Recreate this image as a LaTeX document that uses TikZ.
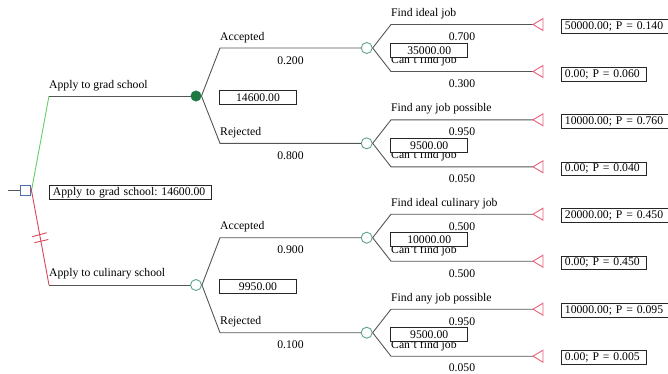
\documentclass[tikz,border=0pt]{standalone}
\usepackage{fontspec}
\setmainfont{Liberation Serif}
\frenchspacing
\definecolor{lgray}{HTML}{555555}
\definecolor{lgreen}{HTML}{66CC66}
\definecolor{lred}{HTML}{D9465A}
\definecolor{sqblue}{HTML}{4A6FB5}
\definecolor{dgreen}{HTML}{1E7A45}
\definecolor{cgreen}{HTML}{5FA585}
\definecolor{tred}{HTML}{E8607A}
\begin{document}
\begin{tikzpicture}[x=1pt,y=-1pt,
  every node/.style={font=\fontsize{11.7}{13}\selectfont},
  branch/.style={draw=lgray, line width=0.9pt},
  decnode/.style={draw=sqblue, fill=white, line width=0.9pt, minimum size=10pt, inner sep=0pt, rectangle},
  fchance/.style={circle, fill=dgreen, draw=dgreen, minimum size=10.5pt, inner sep=0pt},
  ochance/.style={circle, fill=white, draw=cgreen, line width=0.9pt, minimum size=11pt, inner sep=0pt},
  tristyle/.style={draw=tred, line width=0.9pt, fill=white},
  lbl/.style={anchor=base west, inner sep=0pt},
  prob/.style={anchor=base, inner sep=0pt},
  vbox/.style={draw=black!85, line width=0.8pt, minimum width=77pt, minimum height=13.6pt, inner sep=0pt, fill=white},
  pbox/.style={draw=black!85, line width=0.8pt, anchor=west, minimum height=13.6pt, inner xsep=3.5pt, inner ysep=0pt, text width=#1, align=left, fill=white},
]
\useasboundingbox (0,0) rectangle (668,373);

% root
\coordinate (r0) at (8,190.5);
\node[decnode] (r) at (25.5,190.5) {};
\draw[branch] (r0) -- (r.west);
\coordinate (kA) at (49,96);
\coordinate (kB) at (49,285);
\node[fchance] (cA) at (196,96) {};
\node[ochance] (cB) at (196,285) {};
\draw[draw=lgreen, line width=0.9pt] ([yshift=-3pt]r.east) -- (kA);
\draw[branch] (kA) -- (cA.west);
\draw[draw=lred, line width=0.9pt] ([yshift=3pt]r.east) -- (kB);
\draw[branch] (kB) -- (cB.west);
\draw[draw=lred, line width=0.9pt] (32.3,236.7) -- (46.7,232.7);
\draw[draw=lred, line width=0.9pt] (34.3,242.7) -- (48.3,239.5);
\node[lbl] (lA) at (49,88) {Apply to grad school};
\node[lbl] (lB) at (49,276.7) {Apply to culinary school};
\node[pbox=154.7pt] (rb) at (49,192.3) {\mbox{Apply to grad school: 14600.00}};

% level 1
\node[ochance] (cA1) at (366.7,48) {};
\node[ochance] (cA2) at (366.7,143.3) {};
\node[ochance] (cB1) at (366.7,237.7) {};
\node[ochance] (cB2) at (366.7,332.7) {};
\coordinate (kA1) at (220,48);
\coordinate (kA2) at (220,143.3);
\coordinate (kB1) at (220,237.7);
\coordinate (kB2) at (220,332.7);
\draw[branch] (cA.east) -- (kA1) -- (cA1.west);
\draw[branch] (cA.east) -- (kA2) -- (cA2.west);
\draw[branch] (cB.east) -- (kB1) -- (cB1.west);
\draw[branch] (cB.east) -- (kB2) -- (cB2.west);
\node[lbl] (lA1) at (220,40) {Accepted};
\node[lbl] (lA2) at (220,135.3) {Rejected};
\node[lbl] (lB1) at (220,229.7) {Accepted};
\node[lbl] (lB2) at (220,324.7) {Rejected};
\node[prob] (pA1) at (290.5,64) {0.200};
\node[prob] (pA2) at (290.5,159.3) {0.800};
\node[prob] (pB1) at (290.5,253.7) {0.900};
\node[prob] (pB2) at (290.5,348.7) {0.100};
\node[vbox] (vA) at (258,97.3) {14600.00};
\node[vbox] (vB) at (258,286.6) {9950.00};

% level 2
\foreach \n/\y in {A1/48, A2/143.3, B1/237.7, B2/332.7}{
  \coordinate (k\n u) at (391,\y-23.5);
  \coordinate (k\n d) at (391,\y+23.5);
  \coordinate (t\n u) at (533,\y-23.5);
  \coordinate (t\n d) at (533,\y+23.5);
  \draw[branch] (c\n.east) -- (k\n u) -- (t\n u);
  \draw[branch] (c\n.east) -- (k\n d) -- (t\n d);
  \draw[tristyle] (t\n u) -- ++(10,-6) -- ++(0,12) -- cycle;
  \draw[tristyle] (t\n d) -- ++(10,-6) -- ++(0,12) -- cycle;
}
\node[lbl] (fA1) at (391,16.5) {Find ideal job};
\node[lbl] (fA2) at (391,111.8) {Find any job possible};
\node[lbl] (fB1) at (391,206.2) {Find ideal culinary job};
\node[lbl] (fB2) at (391,301.2) {Find any job possible};
\node[lbl] (nA1) at (391,63.5) {Can't find job};
\node[lbl] (nA2) at (391,158.8) {Can't find job};
\node[lbl] (nB1) at (391,253.2) {Can't find job};
\node[lbl] (nB2) at (391,348.2) {Can't find job};
\node[prob] (qA1u) at (462,40.5) {0.700};
\node[prob] (qA1d) at (462,87.5) {0.300};
\node[prob] (qA2u) at (462,135.8) {0.950};
\node[prob] (qA2d) at (462,182.8) {0.050};
\node[prob] (qB1u) at (462,230.2) {0.500};
\node[prob] (qB1d) at (462,277.2) {0.500};
\node[prob] (qB2u) at (462,325.2) {0.950};
\node[prob] (qB2d) at (462,371.5) {0.050};
\node[vbox, anchor=center] (vA1) at (429.2,50.5) {35000.00};
\node[vbox, anchor=center] (vA2) at (429.2,145.3) {9500.00};
\node[vbox, anchor=center] (vB1) at (429.2,239.5) {10000.00};
\node[vbox, anchor=center] (vB2) at (429.2,334.5) {9500.00};

% payoffs
\node[pbox=99.5pt] (oA1u) at (561,26.5) {50000.00; P = 0.140};
\node[pbox=77.5pt] (oA1d) at (561,74.2) {0.00; P = 0.060};
\node[pbox=99.5pt] (oA2u) at (561,121.5) {10000.00; P = 0.760};
\node[pbox=77.5pt] (oA2d) at (561,168.8) {0.00; P = 0.040};
\node[pbox=99.5pt] (oB1u) at (561,215.5) {20000.00; P = 0.450};
\node[pbox=77.5pt] (oB1d) at (561,263) {0.00; P = 0.450};
\node[pbox=99.5pt] (oB2u) at (561,310.5) {10000.00; P = 0.095};
\node[pbox=77.5pt] (oB2d) at (561,357.5) {0.00; P = 0.005};
\end{tikzpicture}
\end{document}
